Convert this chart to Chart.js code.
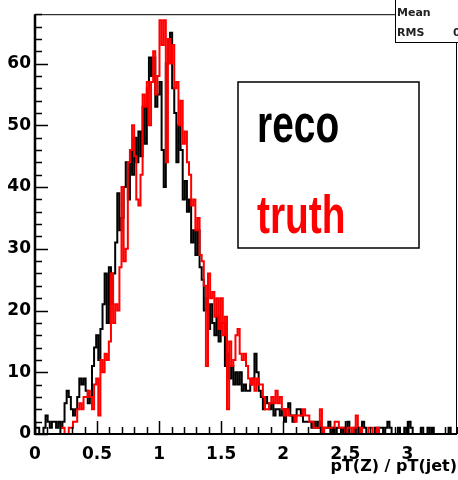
<!DOCTYPE html>
<html>
<head>
<meta charset="utf-8">
<title>pT(Z) / pT(jet)</title>
<script src="https://cdn.jsdelivr.net/npm/chart.js@4.4.1/dist/chart.umd.min.js"></script>
<style>
  html, body { margin: 0; padding: 0; background: #fff; }
  #wrap { width: 458px; height: 480px; }
</style>
</head>
<body>
<div id="wrap"><canvas id="histo" width="458" height="480"></canvas></div>
<script>
// histogram binning: 200 bins between 0 and 3.4
const xLow = 0;
const xHigh = 3.4;
const yTop = 68;

// reco: pT(Z)/pT(jet) from reconstructed objects
const recoCounts = [
  1, 1, 1, 0, 0, 1, 3, 2, 1, 2,
  2, 1, 2, 1, 2, 5, 7, 6, 4, 3,
  4, 6, 9, 8, 9, 7, 5, 6, 11, 14,
  16, 12, 17, 21, 26, 18, 27, 21, 26, 31,
  39, 33, 35, 40, 44, 38, 46, 42, 48, 44,
  49, 45, 53, 47, 56, 61, 58, 61, 53, 55,
  57, 46, 40, 60, 64, 65, 56, 52, 44, 50,
  46, 38, 41, 36, 38, 31, 33, 29, 33, 27,
  25, 20, 22, 17, 21, 18, 16, 19, 15, 18,
  18, 11, 13, 9, 11, 8, 10, 8, 10, 7,
  8, 7, 7, 8, 9, 13, 10, 7, 6, 4,
  6, 5, 4, 5, 3, 4, 4, 3, 4, 2,
  4, 5, 3, 2, 3, 4, 4, 3, 2, 2,
  2, 2, 1, 2, 1, 2, 1, 0, 1, 1,
  2, 0, 1, 0, 1, 1, 0, 1, 0, 2,
  0, 0, 1, 0, 1, 0, 2, 1, 0, 0,
  0, 0, 1, 0, 1, 1, 0, 1, 2, 1,
  0, 0, 0, 1, 0, 0, 1, 0, 2, 1,
  0, 0, 0, 0, 1, 0, 0, 1, 0, 1,
  0, 0, 0, 0, 0, 0, 0, 1, 0, 0
];

// truth: same ratio at generator level
const truthCounts = [
  0, 0, 0, 0, 0, 0, 0, 0, 0, 0,
  0, 0, 0, 1, 1, 0, 0, 1, 1, 2,
  2, 4, 5, 4, 6, 6, 7, 6, 4, 8,
  9, 3, 12, 10, 13, 12, 15, 26, 18, 21,
  20, 27, 40, 28, 30, 44, 46, 50, 45, 38,
  37, 42, 55, 53, 57, 50, 57, 62, 55, 58,
  67, 63, 67, 44, 64, 60, 63, 56, 57, 50,
  54, 47, 49, 44, 42, 37, 38, 33, 35, 29,
  28, 24, 11, 26, 22, 23, 19, 22, 17, 22,
  16, 19, 4, 15, 11, 12, 16, 17, 13, 12,
  13, 11, 9, 8, 9, 7, 9, 8, 8, 6,
  4, 4, 5, 6, 5, 7, 5, 6, 4, 3,
  4, 3, 3, 3, 2, 3, 3, 3, 4, 3,
  3, 2, 2, 1, 1, 1, 4, 0, 1, 1,
  1, 1, 1, 2, 2, 1, 1, 1, 0, 1,
  1, 0, 1, 3, 0, 1, 0, 0, 0, 1,
  1, 0, 0, 1, 0, 0, 0, 0, 0, 0,
  0, 0, 0, 0, 0, 0, 0, 0, 0, 0,
  0, 0, 0, 0, 0, 0, 0, 0, 0, 0,
  0, 0, 0, 0, 0, 0, 0, 0, 0, 0
];

const xTickLabels = ["0", "0.5", "1", "1.5", "2", "2.5", "3"];
const yTickLabels = ["0", "10", "20", "30", "40", "50", "60"];

const legendEntries = [
  { text: "reco", color: "#000000" },
  { text: "truth", color: "#ff0000" }
];

const statsLabels = ["Mean", "RMS"];

// turn bin contents into step points at the low edge of every bin
function toSteps(counts) {
  const w = (xHigh - xLow) / counts.length;
  const pts = counts.map((c, i) => ({ x: xLow + i * w, y: c }));
  pts.push({ x: xHigh, y: counts[counts.length - 1] });
  return pts;
}

const boldFont = "'DejaVu Sans', sans-serif";

/* ================================
   ROOT-style frame, inward ticks, legend and stats box
================================ */
const rootFrame = {
  id: "rootFrame",
  afterDatasetsDraw(chart) {
    const ctx = chart.ctx;
    const a = chart.chartArea;
    const xs = chart.scales.x;
    const ys = chart.scales.y;
    ctx.save();
    ctx.strokeStyle = "#000";

    // thin frame top and right
    ctx.lineWidth = 1;
    ctx.beginPath();
    ctx.moveTo(a.left, a.top + 0.5);
    ctx.lineTo(a.right, a.top + 0.5);
    ctx.moveTo(a.right - 0.5, a.top);
    ctx.lineTo(a.right - 0.5, a.bottom);
    ctx.stroke();

    // axis lines
    ctx.lineWidth = 2.5;
    ctx.beginPath();
    ctx.moveTo(a.left, a.top);
    ctx.lineTo(a.left, a.bottom + 1);
    ctx.stroke();
    ctx.lineWidth = 2;
    ctx.beginPath();
    ctx.moveTo(a.left, a.bottom);
    ctx.lineTo(a.right, a.bottom);
    ctx.stroke();

    // y ticks: major every 10, minor every 2
    ctx.lineWidth = 1.5;
    ctx.beginPath();
    for (let v = 0; v <= yTop + 0.001; v += 2) {
      const py = Math.round(ys.getPixelForValue(v)) + 0.5;
      const len = v % 10 === 0 ? 13 : 7;
      ctx.moveTo(a.left, py);
      ctx.lineTo(a.left + len, py);
    }
    // x ticks: major every 0.5, minor every 0.1
    for (let k = 0; k <= 34; k++) {
      const v = k / 10;
      const px = Math.round(xs.getPixelForValue(v)) + 0.5;
      const len = k % 5 === 0 ? 13 : 7;
      ctx.moveTo(px, a.bottom);
      ctx.lineTo(px, a.bottom - len);
    }
    ctx.stroke();

    // legend box
    ctx.fillStyle = "#fff";
    ctx.fillRect(238, 82, 181, 166);
    ctx.lineWidth = 1.5;
    ctx.strokeRect(238, 82, 181, 166);
    ctx.font = "bold 54px 'Liberation Sans', Arial, sans-serif";
    ctx.textBaseline = "alphabetic";
    const baselines = [142, 233];
    legendEntries.forEach((e, i) => {
      ctx.save();
      ctx.translate(257, baselines[i]);
      ctx.scale(0.72, 1);
      ctx.fillStyle = e.color;
      ctx.fillText(e.text, 0, 0);
      ctx.restore();
    });

    // stats box, cut by the right edge
    ctx.fillStyle = "#fff";
    ctx.fillRect(395, -2, 70, 44);
    ctx.lineWidth = 1;
    ctx.strokeRect(395.5, -2, 70, 44.5);
    ctx.fillStyle = "#222";
    ctx.font = "bold 11px " + boldFont;
    ctx.fillText(statsLabels[0], 397, 16);
    ctx.fillText(statsLabels[1], 397, 36);
    ctx.fillText("0", 453, 36);
    ctx.restore();
  }
};

const ctx = document.getElementById("histo").getContext("2d");

new Chart(ctx, {
  type: "line",
  data: {
    datasets: [
      {
        label: legendEntries[1].text,
        data: toSteps(truthCounts),
        borderColor: legendEntries[1].color,
        borderWidth: 2,
        stepped: "after",
        pointRadius: 0,
        fill: false,
        order: 0
      },
      {
        label: legendEntries[0].text,
        data: toSteps(recoCounts),
        borderColor: legendEntries[0].color,
        borderWidth: 2,
        stepped: "after",
        pointRadius: 0,
        fill: false,
        order: 1
      }
    ]
  },
  options: {
    responsive: false,
    animation: false,
    devicePixelRatio: 1,
    layout: { padding: { top: 9, right: 1, left: 0, bottom: 0 } },
    plugins: {
      legend: { display: false },
      tooltip: { enabled: false }
    },
    scales: {
      x: {
        type: "linear",
        min: xLow,
        max: xHigh,
        grid: { display: false, drawTicks: false },
        border: { display: false },
        ticks: {
          stepSize: 0.5,
          includeBounds: false,
          autoSkip: false,
          maxRotation: 0,
          padding: 10,
          color: "#000",
          font: { family: boldFont, size: 17, weight: "bold" },
          callback: (v) => xTickLabels[Math.round(v * 2)]
        },
        title: {
          display: true,
          text: "pT(Z) / pT(jet)",
          align: "end",
          color: "#000",
          font: { family: boldFont, size: 16, weight: "bold" },
          padding: { top: 0, bottom: 4 }
        },
        afterFit: (s) => { s.height = 46; }
      },
      y: {
        min: 0,
        max: yTop,
        grid: { display: false, drawTicks: false },
        border: { display: false },
        ticks: {
          stepSize: 10,
          includeBounds: false,
          padding: 4,
          color: "#000",
          font: { family: boldFont, size: 17, weight: "bold" },
          callback: (v) => yTickLabels[Math.round(v / 10)]
        },
        afterFit: (s) => { s.width = 35; }
      }
    }
  },
  plugins: [rootFrame]
});
</script>
</body>
</html>
